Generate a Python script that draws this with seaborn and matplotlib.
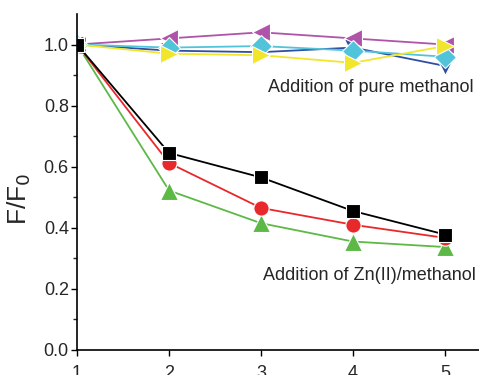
import numpy as np
import pandas as pd
import matplotlib
matplotlib.use('Agg')
import matplotlib.pyplot as plt
import seaborn as sns

# data
steps = [1, 2, 3, 4, 5]
zn_black = [1.0, 0.645, 0.565, 0.455, 0.378]
zn_red = [1.0, 0.612, 0.465, 0.41, 0.367]
zn_green = [1.0, 0.522, 0.415, 0.355, 0.337]
meoh_magenta = [1.0, 1.02, 1.04, 1.02, 1.0]
meoh_blue = [1.0, 0.98, 0.975, 0.99, 0.93]
meoh_cyan = [1.0, 0.99, 0.995, 0.98, 0.96]
meoh_yellow = [1.0, 0.97, 0.965, 0.94, 0.995]

series = [
    (meoh_blue, '#2f4fa2', 'v'),
    (meoh_magenta, '#b054a9', '<'),
    (meoh_cyan, '#52c4da', 'D'),
    (meoh_yellow, '#f2e62c', '>'),
    (zn_green, '#5db946', '^'),
    (zn_red, '#e8282b', 'o'),
    (zn_black, '#000000', 's'),
]

sns.set_style('ticks')
plt.rcParams['font.family'] = ['Liberation Sans', 'DejaVu Sans']

fig = plt.figure(figsize=(4.79, 3.75), dpi=100)
ax = fig.add_axes([0.161, 0.0667, 0.839, 0.896])

for vals, col, mk in series:
    ms = {'s': 10, 'o': 11, 'D': 11}.get(mk, 12.5)
    sns.lineplot(x=steps, y=vals, color=col, marker=mk, markersize=ms,
                 markeredgecolor='white', markeredgewidth=0.8, linewidth=1.3, ax=ax)

ax.set_xlim(1, 5.37)
ax.set_ylim(0, 1.1)
ax.set_xticks(steps)
ax.set_yticks([0.0, 0.2, 0.4, 0.6, 0.8, 1.0])
ax.set_yticks(np.arange(0.1, 1.1, 0.2), minor=True)
ax.set_yticklabels(['0.0', '0.2', '0.4', '0.6', '0.8', '1.0'])
ax.tick_params(axis='both', labelsize=13, direction='out', length=4, width=1, color='black')
ax.tick_params(axis='y', which='minor', length=3, width=1, direction='out')
ax.tick_params(axis='y', pad=2)
ax.tick_params(axis='x', pad=7)
for s in ['top', 'right']:
    ax.spines[s].set_visible(False)
for s in ['left', 'bottom']:
    ax.spines[s].set_linewidth(1.2)
    ax.spines[s].set_color('black')

ax.set_ylabel('F/F$_0$', fontsize=19)
ax.yaxis.set_label_coords(-0.11, 0.45)
ax.set_xlabel('')

ax.text(3.08, 0.86, 'Addition of pure methanol', fontsize=13, va='center', ha='left')
ax.text(3.02, 0.245, 'Addition of Zn(II)/methanol', fontsize=13, va='center', ha='left')

fig.savefig('out.png', dpi=100)
